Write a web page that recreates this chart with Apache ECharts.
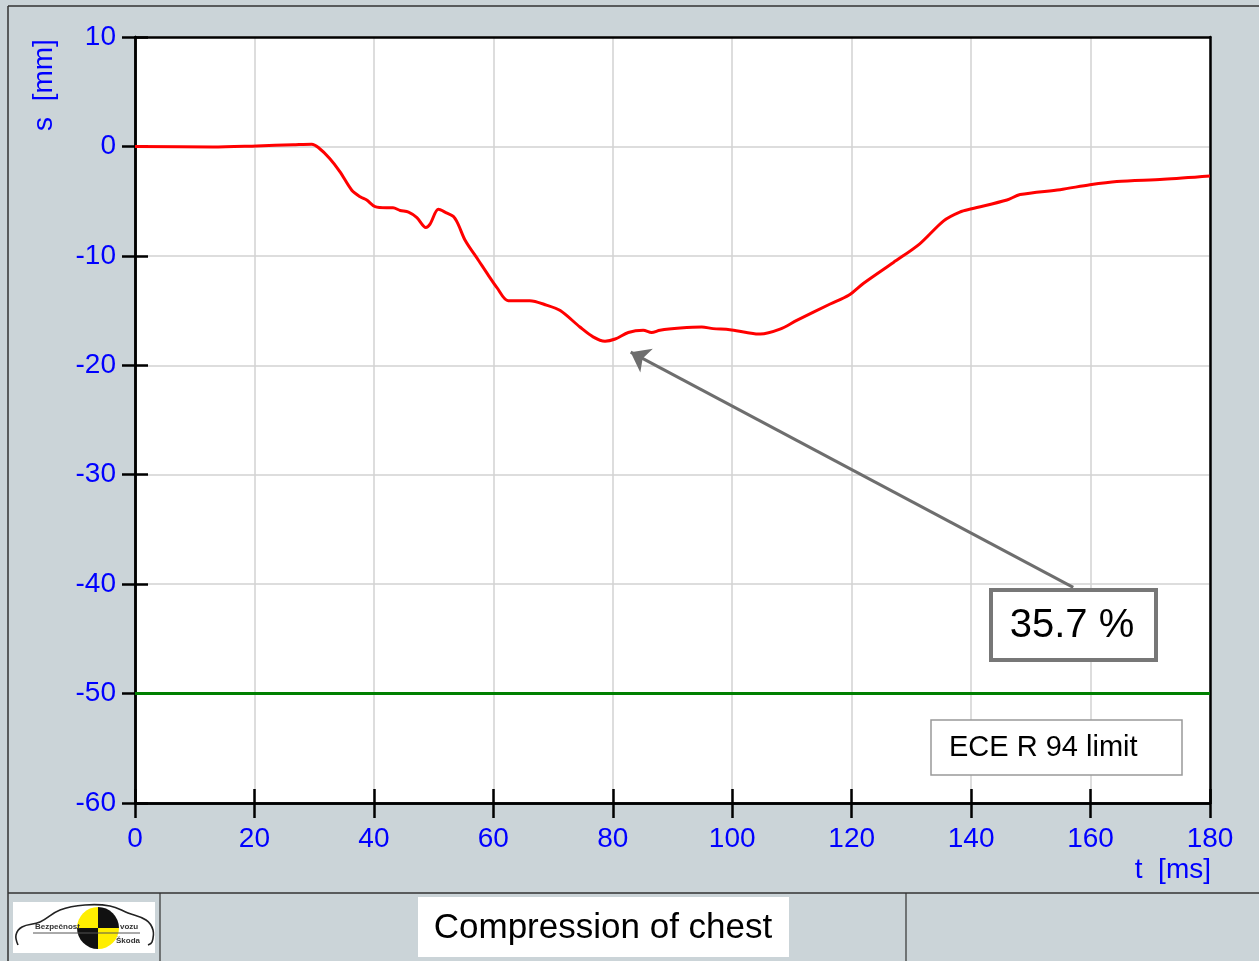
<!DOCTYPE html>
<html><head><meta charset="utf-8">
<script src="https://cdn.jsdelivr.net/npm/echarts@6/dist/echarts.min.js"></script>
<style>html,body{margin:0;padding:0;background:#cbd4d8;}#c{width:1259px;height:961px;}</style>
</head><body><div id="c"></div>
<script>
// ---- data ----
const compression = [
 [0,0],[13,-0.05],[20.4,0.05],[26.5,0.15],[29.6,0.2],[30.7,-0.1],[32.6,-1.1],[34.3,-2.3],
 [36.3,-4.0],[37.7,-4.6],[38.8,-4.9],[40.2,-5.5],[42.1,-5.6],[43.2,-5.6],[44.4,-5.85],[45.8,-6.0],
 [47.2,-6.5],[48.7,-7.4],[49.4,-7.1],[50.8,-5.75],[51.9,-6.0],[53.3,-6.4],[54.1,-7.1],[55.3,-8.6],
 [57.5,-10.4],[59.2,-11.8],[60.6,-12.9],[62.5,-14.1],[66.1,-14.1],[68.9,-14.5],[71.2,-15.0],
 [74.5,-16.5],[76.7,-17.4],[78.7,-17.8],[80.4,-17.6],[82.6,-17.0],[85.1,-16.8],[86.5,-17.0],
 [87.9,-16.8],[91.3,-16.6],[94.9,-16.5],[96.8,-16.65],[99.6,-16.75],[102.4,-17.0],[104.7,-17.15],
 [108,-16.7],[110.8,-15.9],[116.4,-14.4],[119.5,-13.6],[122,-12.5],[127,-10.6],[131.4,-8.9],
 [135.4,-6.8],[138.1,-6.0],[140.1,-5.7],[146,-4.9],[148.2,-4.4],[154.9,-3.95],[159.9,-3.5],
 [164.4,-3.2],[172.2,-3.0],[180,-2.7]
];
const limitValue = -50;
const limitRange = [0, 180];
const limitLabel = 'ECE R 94 limit';
const peakLabel = '35.7 %';
const arrowFrom = [157.1, -40.3];
const arrowTo = [83.0, -18.8];
const xTicks = {min: 0, max: 180, interval: 20};
const yTicks = {min: -60, max: 10, interval: 10};
const xName = 't  [ms]';
const yName = 's  [mm]';
const title = 'Compression of chest';

const FONT = 'Liberation Sans, Arial, sans-serif';
const BLUE = '#0000ff';
const chart = echarts.init(document.getElementById('c'), null, {renderer: 'canvas'});

const line = {show: true, onZero: false, lineStyle: {color: '#000', width: 2.5}};
const none = {show: false};
const opt = {
  animation: false,
  backgroundColor: '#cbd4d8',
  grid: {left: 135, right: 49, top: 37, bottom: 158, show: true, backgroundColor: '#fff', borderWidth: 0},
  xAxis: [
    Object.assign({type: 'value'}, xTicks, {
      position: 'bottom', axisLine: line,
      axisTick: {show: true, inside: false, length: 15, lineStyle: {color: '#000', width: 2.5}},
      axisLabel: {color: BLUE, fontSize: 28, fontFamily: FONT, margin: 22},
      splitLine: {show: true, lineStyle: {color: '#d2d2d2', width: 1.5}}
    }),
    Object.assign({type: 'value'}, xTicks, {
      position: 'bottom', axisLine: line,
      axisTick: {show: true, inside: true, length: 14, lineStyle: {color: '#000', width: 2.5}},
      axisLabel: none, splitLine: none
    }),
    Object.assign({type: 'value'}, xTicks, {
      position: 'top', axisLine: line, axisTick: none, axisLabel: none, splitLine: none
    })
  ],
  yAxis: [
    Object.assign({type: 'value'}, yTicks, {
      position: 'left', axisLine: line,
      axisTick: {show: true, inside: false, length: 13, lineStyle: {color: '#000', width: 2.5}},
      axisLabel: {color: BLUE, fontSize: 28, fontFamily: FONT, margin: 19},
      splitLine: {show: true, lineStyle: {color: '#d2d2d2', width: 1.5}}
    }),
    Object.assign({type: 'value'}, yTicks, {
      position: 'left', axisLine: line,
      axisTick: {show: true, inside: true, length: 13, lineStyle: {color: '#000', width: 2.5}},
      axisLabel: none, splitLine: none
    }),
    Object.assign({type: 'value'}, yTicks, {
      position: 'right', axisLine: line, axisTick: none, axisLabel: none, splitLine: none
    })
  ],
  series: [
    {
      type: 'line', name: 'limit', xAxisIndex: 0, yAxisIndex: 0,
      data: limitRange.map(t => [t, limitValue]),
      showSymbol: false, symbol: 'none',
      lineStyle: {color: '#008000', width: 3}, z: 3
    },
    {
      type: 'line', name: 'compression', xAxisIndex: 0, yAxisIndex: 0,
      data: compression, smooth: 0.3, showSymbol: false, symbol: 'none',
      lineStyle: {color: '#ff0000', width: 3}, z: 4,
      markLine: {
        silent: true, symbol: ['none', 'arrow'], symbolSize: [20, 18],
        label: {show: false},
        lineStyle: {color: '#6e6e6e', width: 3, type: 'solid'},
        data: [[{coord: arrowFrom}, {coord: arrowTo}]]
      }
    }
  ],
  graphic: [
    // frame lines
    {type: 'line', shape: {x1: 8, y1: 6, x2: 1259, y2: 6}, style: {stroke: '#333', lineWidth: 1.5}},
    {type: 'line', shape: {x1: 8, y1: 6, x2: 8, y2: 961}, style: {stroke: '#333', lineWidth: 1.5}},
    {type: 'line', shape: {x1: 8, y1: 893, x2: 1259, y2: 893}, style: {stroke: '#333', lineWidth: 1.5}},
    {type: 'line', shape: {x1: 160, y1: 893, x2: 160, y2: 961}, style: {stroke: '#333', lineWidth: 1.2}},
    {type: 'line', shape: {x1: 906, y1: 893, x2: 906, y2: 961}, style: {stroke: '#333', lineWidth: 1.2}},
    // axis names
    {type: 'text', x: 1211, y: 870, style: {text: xName, fill: BLUE, font: '28px ' + FONT, textAlign: 'right', textVerticalAlign: 'middle'}},
    {type: 'text', x: 44, y: 85, rotation: Math.PI / 2, style: {text: yName, fill: BLUE, font: '28px ' + FONT, textAlign: 'center', textVerticalAlign: 'middle'}},
    // peak annotation box
    {type: 'rect', shape: {x: 991, y: 590, width: 165, height: 70}, style: {fill: '#fff', stroke: '#777', lineWidth: 4}, z: 10},
    {type: 'text', x: 1072, y: 626, z: 11, style: {text: peakLabel, fill: '#000', font: '40px ' + FONT, textAlign: 'center', textVerticalAlign: 'middle'}},
    // limit label box
    {type: 'rect', shape: {x: 931, y: 720, width: 251, height: 55}, style: {fill: '#fff', stroke: '#999', lineWidth: 1.5}, z: 10},
    {type: 'text', x: 949, y: 748, z: 11, style: {text: limitLabel, fill: '#000', font: '29px ' + FONT, textAlign: 'left', textVerticalAlign: 'middle'}},
    // title box
    {type: 'rect', shape: {x: 418, y: 897, width: 371, height: 60}, style: {fill: '#fff'}},
    {type: 'text', x: 603, y: 928, style: {text: title, fill: '#000', font: '35px ' + FONT, textAlign: 'center', textVerticalAlign: 'middle'}},
    // logo
    {type: 'rect', shape: {x: 13, y: 902, width: 142, height: 51}, style: {fill: '#fff'}},
    {type: 'polyline', shape: {points: [[18,945],[16,935],[22,927],[40,922],[60,910],[85,905],[110,906],[128,913],[146,920],[153,930],[152,942],[148,945]], smooth: 0.4}, style: {stroke: '#222', lineWidth: 1.6, fill: null}},
    {type: 'sector', shape: {cx: 98, cy: 928, r: 21, startAngle: Math.PI, endAngle: Math.PI * 1.5}, style: {fill: '#ffee00'}},
    {type: 'sector', shape: {cx: 98, cy: 928, r: 21, startAngle: Math.PI * 1.5, endAngle: Math.PI * 2}, style: {fill: '#111'}},
    {type: 'sector', shape: {cx: 98, cy: 928, r: 21, startAngle: 0, endAngle: Math.PI * 0.5}, style: {fill: '#ffee00'}},
    {type: 'sector', shape: {cx: 98, cy: 928, r: 21, startAngle: Math.PI * 0.5, endAngle: Math.PI}, style: {fill: '#111'}},
    {type: 'line', shape: {x1: 33, y1: 933, x2: 140, y2: 933}, style: {stroke: '#555', lineWidth: 1}},
    {type: 'text', x: 35, y: 927, style: {text: 'Bezpečnost', fill: '#333', font: 'bold 8px ' + FONT, textVerticalAlign: 'middle'}},
    {type: 'text', x: 120, y: 927, style: {text: 'vozu', fill: '#333', font: 'bold 8px ' + FONT, textVerticalAlign: 'middle'}},
    {type: 'text', x: 116, y: 941, style: {text: 'Škoda', fill: '#333', font: 'bold 8px ' + FONT, textVerticalAlign: 'middle'}}
  ]
};
chart.setOption(opt);
</script></body></html>
